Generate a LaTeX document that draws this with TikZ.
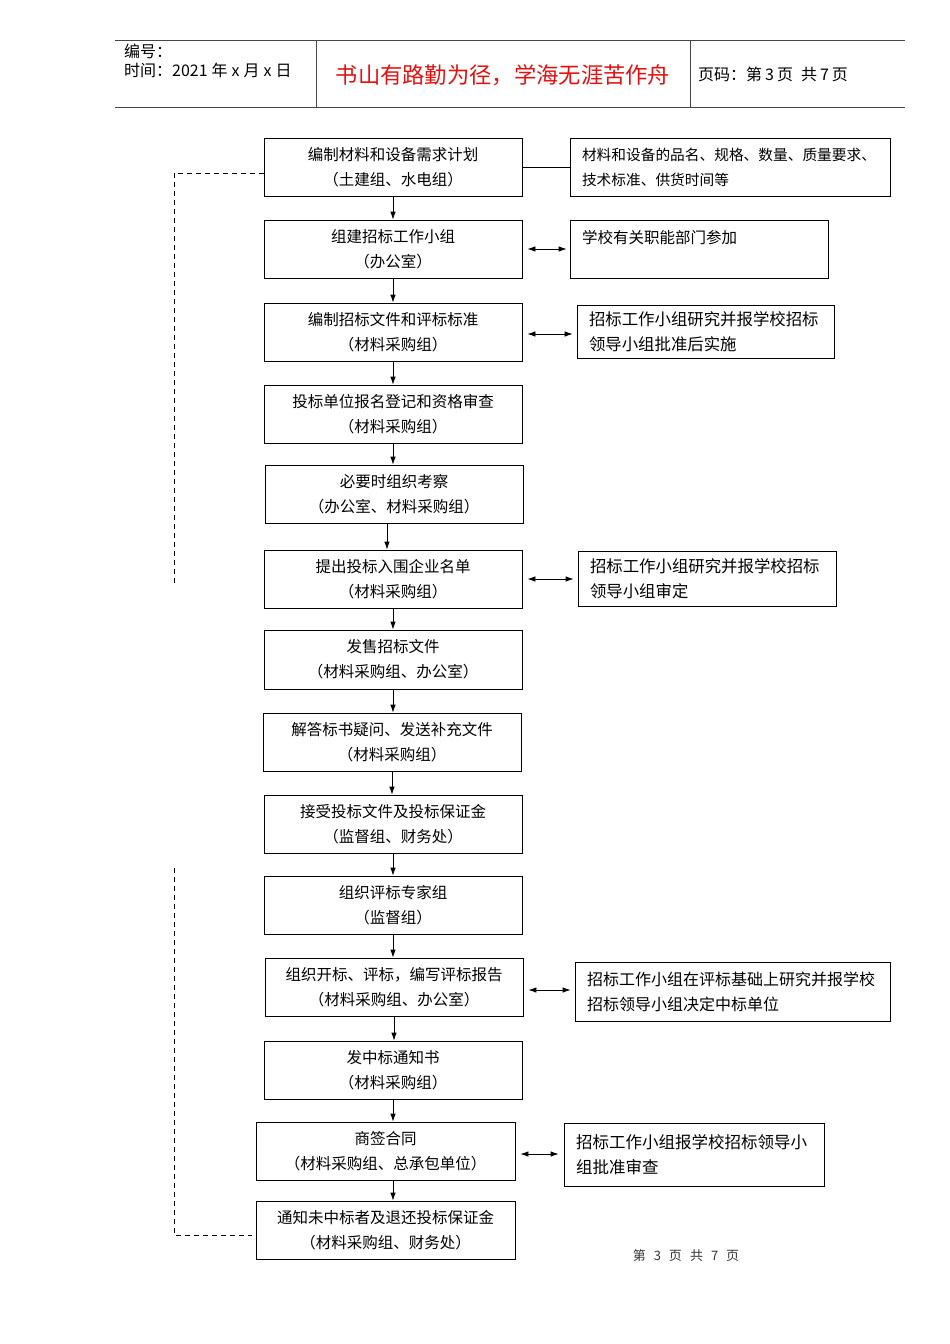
\documentclass[tikz,border=0pt]{standalone}
\usepackage{fontspec}
\setmainfont{Noto Sans CJK SC}
\usetikzlibrary{arrows.meta}
\definecolor{titlered}{RGB}{228,16,16}
\definecolor{hdrline}{RGB}{70,70,70}
\newcommand{\rfs}[1]{\fontsize{#1}{25}\selectfont}
\begin{document}
\begin{tikzpicture}[x=1pt,y=-1pt,
  box/.style={draw, line width=0.8pt, inner sep=0pt, align=center,
    minimum width=258pt, minimum height=58pt,
    font=\fontsize{15.5}{25}\selectfont},
  rbox/.style={draw, line width=0.8pt, inner xsep=12pt, inner ysep=0pt, align=left},
  arr/.style={-{Latex[length=8pt,width=5.5pt]}, line width=0.8pt},
  dbl/.style={{Latex[length=8pt,width=5.5pt]}-{Latex[length=8pt,width=5.5pt]}, line width=0.8pt},
  dsh/.style={line width=0.7pt, dash pattern=on 5pt off 4pt},
  hdr/.style={font=\fontsize{16}{18}\selectfont, anchor=west, inner sep=0pt}
]
\useasboundingbox (0,0) rectangle (950,1344);

% header
\draw[hdrline, line width=0.9pt] (115,40) -- (905,40);
\draw[hdrline, line width=0.9pt] (115,107) -- (905,107);
\draw[hdrline, line width=0.9pt] (316,40) -- (316,107);
\draw[hdrline, line width=0.9pt] (690,40) -- (690,107);
\node[hdr] (h1) at (124,51) {编号：};
\node[hdr] (h2) at (124,70) {时间：2021\hspace{4pt}年\hspace{4pt}x\hspace{4pt}月\hspace{4pt}x\hspace{4pt}日};
\node[font=\fontsize{22.3}{24}\selectfont, text=titlered, inner sep=0pt] (title) at (503,75) {书山有路勤为径，学海无涯苦作舟};
\node[hdr] (h3) at (698,74) {页码：第\hspace{3pt}3\hspace{3pt}页\hspace{8pt}共\hspace{3pt}7\hspace{3pt}页};

% main column
\node[box] (b1) at (393,167) {编制材料和设备需求计划\\（土建组、水电组）};
\node[box] (b2) at (393,249) {组建招标工作小组\\（办公室）};
\node[box] (b3) at (393,332) {编制招标文件和评标标准\\（材料采购组）};
\node[box] (b4) at (393,414) {投标单位报名登记和资格审查\\（材料采购组）};
\node[box] (b5) at (394,494) {必要时组织考察\\（办公室、材料采购组）};
\node[box] (b6) at (393,579) {提出投标入围企业名单\\（材料采购组）};
\node[box, minimum height=59pt] (b7) at (393,659.5) {发售招标文件\\（材料采购组、办公室）};
\node[box] (b8) at (392,742) {解答标书疑问、发送补充文件\\（材料采购组）};
\node[box] (b9) at (393,824) {接受投标文件及投标保证金\\（监督组、财务处）};
\node[box] (b10) at (393,905) {组织评标专家组\\（监督组）};
\node[box] (b11) at (394,987) {组织开标、评标，编写评标报告\\（材料采购组、办公室）};
\node[box] (b12) at (393,1070) {发中标通知书\\（材料采购组）};
\node[box, minimum width=259pt] (b13) at (385.5,1151) {商签合同\\（材料采购组、总承包单位）};
\node[box, minimum width=259pt] (b14) at (385.5,1230) {通知未中标者及退还投标保证金\\（材料采购组、财务处）};

% right column
\node[rbox, font=\rfs{14.7}, text width=296pt, minimum height=58pt] (r1) at (730,167) {材料和设备的品名、规格、数量、质量要求、\\技术标准、供货时间等};
\node[rbox, font=\rfs{15.5}, text width=234pt, minimum height=58pt] (r2) at (699,249) {学校有关职能部门参加\\\mbox{}};
\node[rbox, font=\rfs{16.4}, text width=233pt, minimum height=53pt] (r3) at (705.5,331.5) {招标工作小组研究并报学校招标\\领导小组批准后实施};
\node[rbox, font=\rfs{16.4}, text width=234pt, minimum height=55pt] (r6) at (707,578.5) {招标工作小组研究并报学校招标\\领导小组审定};
\node[rbox, font=\rfs{16}, text width=291pt, minimum height=59pt] (r11) at (732.5,991.5) {招标工作小组在评标基础上研究并报学校\\招标领导小组决定中标单位};
\node[rbox, font=\rfs{16.5}, text width=236pt, minimum height=63pt] (r13) at (694,1154.5) {招标工作小组报学校招标领导小\\组批准审查};

% vertical flow arrows
\draw[arr] (b1.south) -- (b1.south |- b2.north);
\draw[arr] (b2.south) -- (b2.south |- b3.north);
\draw[arr] (b3.south) -- (b3.south |- b4.north);
\draw[arr] (b4.south) -- (b4.south |- b5.north);
\draw[arr] ([xshift=-7pt]b5.south) -- ([xshift=-7pt]b5.south |- b6.north);
\draw[arr] (b6.south) -- (b6.south |- b7.north);
\draw[arr] (b7.south) -- (b7.south |- b8.north);
\draw[arr] (b8.south) -- (b8.south |- b9.north);
\draw[arr] (b9.south) -- (b9.south |- b10.north);
\draw[arr] (b10.south) -- (b10.south |- b11.north);
\draw[arr] (b11.south) -- (b11.south |- b12.north);
\draw[arr] (b12.south) -- (b12.south |- b13.north);
\draw[arr] (b13.south -| b12.south) -- (b14.north -| b12.south);

% side links
\draw[line width=0.8pt] (b1.east) -- (b1.east -| r1.west);
\draw[dbl, shorten <=5pt, shorten >=3pt] (b2.east) -- (b2.east -| r2.west);
\draw[dbl, shorten <=5pt, shorten >=4pt] ([yshift=-2pt]b3.east) -- ([yshift=-2pt]b3.east -| r3.west);
\draw[dbl, shorten <=5pt, shorten >=4pt] (b6.east) -- (b6.east -| r6.west);
\draw[dbl, shorten <=5pt, shorten >=4pt] ([yshift=-3pt]b11.east) -- ([yshift=-3pt]b11.east -| r11.west);
\draw[dbl, shorten <=5pt, shorten >=5pt] ([yshift=-3pt]b13.east) -- ([yshift=-3pt]b13.east -| r13.west);

% dashed feedback lines
\coordinate (d1) at (174,583);
\coordinate (d2) at (174,868);
\draw[dsh] ([yshift=-6pt]b1.west) -| (d1);
\draw[dsh, shorten >=4pt] (d2) |- ([yshift=-5pt]b14.west);

% footer
\node[font=\fontsize{13}{14}\selectfont, text=black!80, inner sep=0pt] (foot) at (686,1256) {第\hspace{8pt}3\hspace{8pt}页\hspace{8pt}共\hspace{8pt}7\hspace{8pt}页};
\end{tikzpicture}
\end{document}
